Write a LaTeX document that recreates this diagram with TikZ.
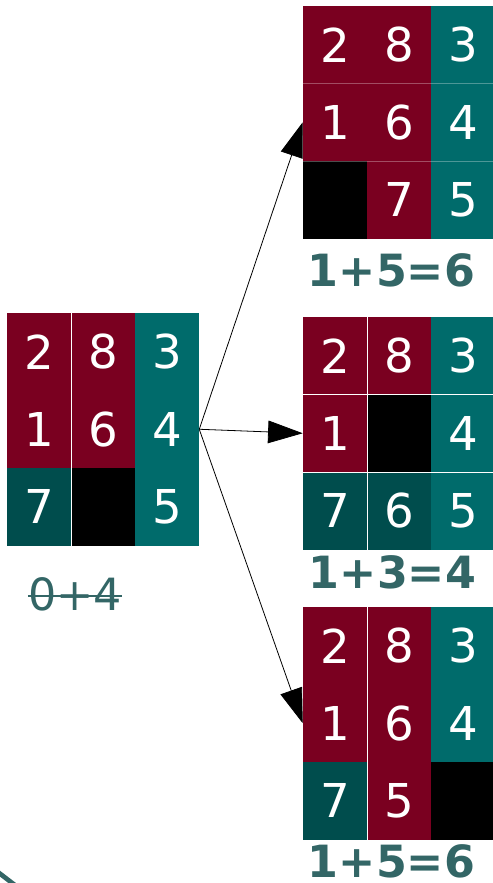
\documentclass[tikz,border=0pt]{standalone}
\usepackage{fontspec}
\setmainfont{DejaVu Sans}
\usetikzlibrary{arrows.meta}
\definecolor{TileRed}{RGB}{122,0,32}
\definecolor{TileTeal}{RGB}{0,107,107}
\definecolor{TileDark}{RGB}{0,77,77}
\definecolor{ScoreTeal}{RGB}{51,102,102}
\tikzset{
  tile/.style={minimum width=48pt,minimum height=58.125pt,inner sep=0pt,
    text=white,font=\fontsize{35}{42}\selectfont},
  board/.style={minimum width=144pt,minimum height=174.4pt,inner sep=0pt},
  score/.style={text=ScoreTeal,inner sep=0pt,anchor=base,
    font=\bfseries\fontsize{33.3}{40}\selectfont},
  cost/.style={text=ScoreTeal,inner sep=0pt,anchor=base,
    font=\fontsize{33.3}{40}\selectfont},
  seam/.style={white,line width=0.9pt},
  move/.style={-{Triangle[length=26pt,width=17pt]},line width=0.6pt,black}
}

\begin{document}
\begin{tikzpicture}[x=0.75pt,y=-0.75pt]
  \useasboundingbox (0,0) rectangle (493,883);
  \node[board] (root) at (103,429.25) {};
  \node[board] (mvleft) at (399,122.25) {};
  \node[board] (mvup) at (399,433.25) {};
  \node[board] (mvright) at (399,723.25) {};
  \draw[move] (root.east) -- (mvleft.west);
  \draw[move] (root.east) -- (mvup.west);
  \draw[move] (root.east) -- (mvright.west);
  \foreach \c/\r/\col/\num in {0/0/TileRed/2,1/0/TileRed/8,2/0/TileTeal/3,
      0/1/TileRed/1,1/1/TileRed/6,2/1/TileTeal/4,
      0/2/TileDark/7,1/2/black/{},2/2/TileTeal/5}
    \node[tile,fill=\col] (root-\c\r) at ({7+32+64*\c},{313+38.75+77.5*\r}) {\num};
  \foreach \c/\r/\col/\num in {0/0/TileRed/2,1/0/TileRed/8,2/0/TileTeal/3,
      0/1/TileRed/1,1/1/TileRed/6,2/1/TileTeal/4,
      0/2/black/{},1/2/TileRed/7,2/2/TileTeal/5}
    \node[tile,fill=\col] (mvleft-\c\r) at ({303+32+64*\c},{6+38.75+77.5*\r}) {\num};
  \foreach \c/\r/\col/\num in {0/0/TileRed/2,1/0/TileRed/8,2/0/TileTeal/3,
      0/1/TileRed/1,1/1/black/{},2/1/TileTeal/4,
      0/2/TileDark/7,1/2/TileDark/6,2/2/TileTeal/5}
    \node[tile,fill=\col] (mvup-\c\r) at ({303+32+64*\c},{317+38.75+77.5*\r}) {\num};
  \foreach \c/\r/\col/\num in {0/0/TileRed/2,1/0/TileRed/8,2/0/TileTeal/3,
      0/1/TileRed/1,1/1/TileRed/6,2/1/TileTeal/4,
      0/2/TileDark/7,1/2/TileRed/5,2/2/black/{}}
    \node[tile,fill=\col] (mvright-\c\r) at ({303+32+64*\c},{607+38.75+77.5*\r}) {\num};
  \draw[seam] (root-00.north east) -- (root-02.south east);
  \draw[seam,opacity=0.3] (mvleft-00.south west) -- (mvleft-20.south east);
  \draw[seam,opacity=0.3] (mvleft-01.south west) -- (mvleft-21.south east);
  \draw[seam] (mvup-00.north east) -- (mvup-02.south east);
  \draw[seam] (mvup-00.south west) -- (mvup-20.south east);
  \draw[seam] (mvup-01.south west) -- (mvup-21.south east);
  \draw[seam] (mvright-00.north east) -- (mvright-02.south east);
  \node[cost] (rootcost) at (75,610) {0+4};
  \draw[ScoreTeal,line width=2.2pt]
    ([yshift=10.5pt]rootcost.base west) -- ([yshift=10.5pt]rootcost.base east);
  \node[score] (leftcost) at (391.5,286) {1+5=6};
  \node[score] (upcost) at (392.5,588) {1+3=4};
  \node[score] (rightcost) at (391.5,877) {1+5=6};
  \draw[ScoreTeal,line width=3.5pt] (-10,866) -- (20,889);
\end{tikzpicture}
\end{document}
